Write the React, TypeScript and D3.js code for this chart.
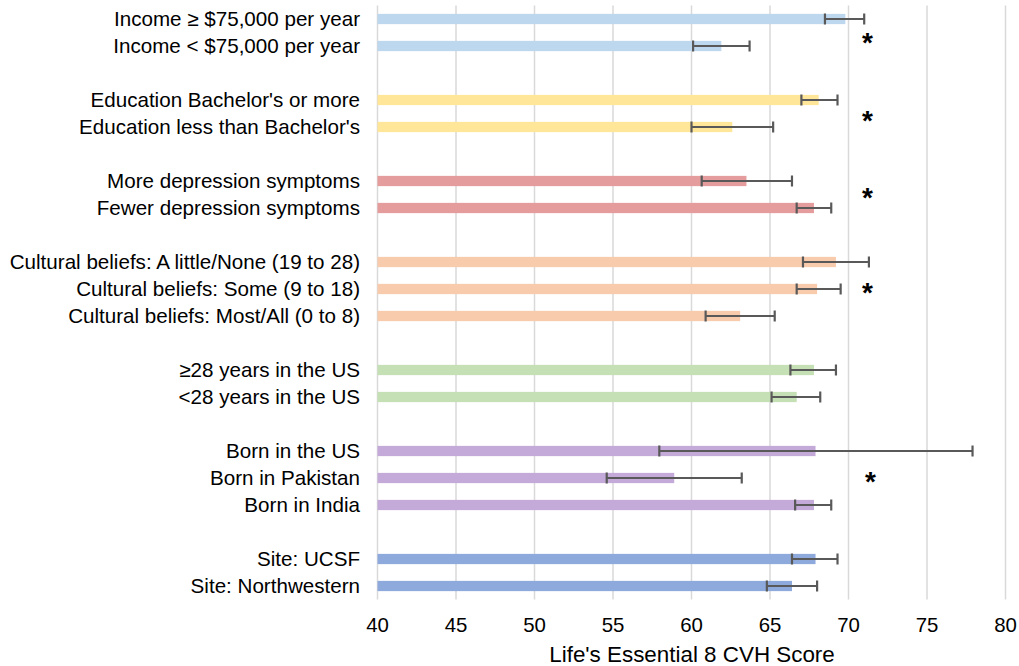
import React from "react";
import * as d3 from "d3";

// ---- Data ----
const labels = [
  "Income ≥ $75,000 per year",
  "Income < $75,000 per year",
  "",
  "Education Bachelor's or more",
  "Education less than Bachelor's",
  "",
  "More depression symptoms",
  "Fewer depression symptoms",
  "",
  "Cultural beliefs: A little/None (19 to 28)",
  "Cultural beliefs: Some (9 to 18)",
  "Cultural beliefs: Most/All (0 to 8)",
  "",
  "≥28 years in the US",
  "<28 years in the US",
  "",
  "Born in the US",
  "Born in Pakistan",
  "Born in India",
  "",
  "Site: UCSF",
  "Site: Northwestern",
];
const groups = [0, 0, -1, 1, 1, -1, 2, 2, -1, 3, 3, 3, -1, 4, 4, -1, 5, 5, 5, -1, 6, 6];
const means = [69.8, 61.9, NaN, 68.1, 62.6, NaN, 63.5, 67.8, NaN, 69.2, 68.0, 63.1, NaN, 67.8, 66.7, NaN, 67.9, 58.9, 67.8, NaN, 67.9, 66.4];
const lows = [68.5, 60.1, NaN, 67.0, 60.0, NaN, 60.65, 66.7, NaN, 67.1, 66.7, 60.9, NaN, 66.3, 65.1, NaN, 57.95, 54.6, 66.6, NaN, 66.4, 64.8];
const highs = [71.0, 63.7, NaN, 69.3, 65.2, NaN, 66.4, 68.9, NaN, 71.3, 69.5, 65.3, NaN, 69.2, 68.2, NaN, 77.9, 63.2, 68.9, NaN, 69.3, 68.0];
const groupColors = ["#bdd7ee", "#ffe699", "#e59c9c", "#f8cbad", "#c5e0b4", "#c4aad8", "#8eaadc"];
// significance markers: row position (fractional index) and x value
const sigRows = [0.74, 3.64, 6.49, 10.0, 17.0];
const sigX = [71.2, 71.2, 71.2, 71.2, 71.4];
const xTicks = [40, 45, 50, 55, 60, 65, 70, 75, 80];
const xTitle = "Life's Essential 8 CVH Score";

const W = 1019;
const H = 666;
const FONT = "'Liberation Sans', Arial, Helvetica, sans-serif";

export default function App() {
  const x = d3.scaleLinear().domain([40, 80]).range([377.5, 1005.5]);
  const y = d3
    .scaleBand<number>()
    .domain(labels.map((_, i) => i))
    .range([5.5, 599.5])
    .paddingInner(0.62)
    .paddingOuter(0.31);
  const step = y.step();
  const bw = y.bandwidth();
  const cy = (i: number) => (y(i) as number) + bw / 2;
  const capH = 11;

  return (
    <svg
      width={W}
      height={H}
      style={{ position: "absolute", left: 0, top: 0, background: "#fff" }}
      fontFamily={FONT}
    >
      {/* gridlines */}
      {xTicks.map((t) => (
        <line key={"g" + t} x1={x(t)} x2={x(t)} y1={5.5} y2={599.5} stroke="#d9d9d9" strokeWidth={1.5} />
      ))}
      {/* bars */}
      {labels.map((l, i) =>
        l ? (
          <rect
            key={"b" + i}
            x={x(40)}
            y={y(i)}
            width={x(means[i]) - x(40)}
            height={bw}
            fill={groupColors[groups[i]]}
          />
        ) : null
      )}
      {/* error bars */}
      {labels.map((l, i) =>
        l ? (
          <g key={"e" + i} stroke="#595959" strokeWidth={2.2} fill="none">
            <line x1={x(lows[i])} x2={x(highs[i])} y1={cy(i)} y2={cy(i)} />
            <line x1={x(lows[i])} x2={x(lows[i])} y1={cy(i) - capH / 2} y2={cy(i) + capH / 2} />
            <line x1={x(highs[i])} x2={x(highs[i])} y1={cy(i) - capH / 2} y2={cy(i) + capH / 2} />
          </g>
        ) : null
      )}
      {/* category labels */}
      {labels.map((l, i) =>
        l ? (
          <text key={"l" + i} x={360} y={cy(i)} dy="0.35em" textAnchor="end" fontSize={20.6} fill="#000">
            {l}
          </text>
        ) : null
      )}
      {/* significance */}
      {sigRows.map((r, k) => (
        <text
          key={"s" + k}
          x={x(sigX[k])}
          y={(y(0) as number) + bw / 2 + r * step}
          dy="0.47em"
          textAnchor="middle"
          fontSize={28}
          fontWeight="bold"
          fill="#000"
        >
          *
        </text>
      ))}
      {/* x tick labels */}
      {xTicks.map((t) => (
        <text key={"t" + t} x={x(t)} y={632} textAnchor="middle" fontSize={20.4} fill="#000">
          {t}
        </text>
      ))}
      <text x={692} y={661.5} textAnchor="middle" fontSize={22.4} fill="#000">
        {xTitle}
      </text>
    </svg>
  );
}
